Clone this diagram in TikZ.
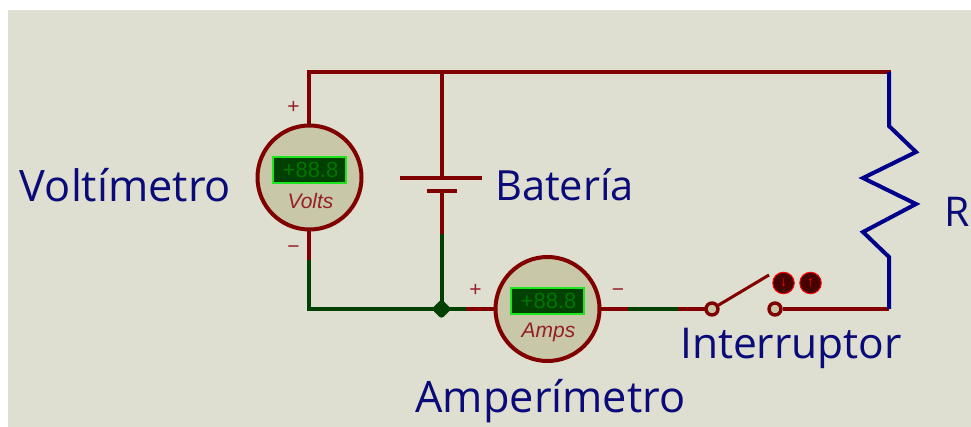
\documentclass[tikz,border=0pt]{standalone}
\usepackage{fontspec}
\usetikzlibrary{shapes.geometric}
\setmainfont{Open Sans}
\newfontfamily\metfont{Liberation Sans}
\definecolor{bgc}{RGB}{222,223,208}
\definecolor{wred}{RGB}{128,0,0}
\definecolor{wgreen}{RGB}{0,64,0}
\definecolor{wblue}{RGB}{0,0,139}
\definecolor{faceC}{RGB}{200,200,168}
\definecolor{lcdbg}{RGB}{0,64,0}
\definecolor{lcdfg}{RGB}{0,118,0}
\definecolor{lcdbd}{RGB}{30,230,30}
\definecolor{txtC}{RGB}{10,10,120}
\definecolor{pinC}{RGB}{150,30,40}
\definecolor{ctrlbg}{RGB}{70,0,0}
\definecolor{ctrlfg}{RGB}{255,0,0}
\tikzset{
  wr/.style={draw=wred,line width=4pt},
  wg/.style={draw=wgreen,line width=4pt},
  wb/.style={draw=wblue,line width=4pt,line join=miter},
  meter/.style={circle,draw=wred,line width=4pt,fill=faceC,minimum size=104pt,inner sep=0pt},
  lcd/.style={draw=lcdbd,line width=1.6pt,fill=lcdbg,text=lcdfg,minimum width=73pt,minimum height=25.5pt,inner sep=0pt,font=\metfont\fontsize{22}{22}\selectfont},
  unit/.style={text=pinC,inner sep=0pt,font=\metfont\itshape\fontsize{21}{22}\selectfont},
  pin/.style={text=pinC,inner sep=0pt,font=\metfont\fontsize{21}{21}\selectfont},
  lab/.style={text=txtC,inner sep=0pt,font=\fontsize{#1}{46}\selectfont},
  term/.style={circle,draw=wred,line width=3.4pt,fill=faceC,minimum size=12pt,inner sep=0pt},
  ctrl/.style={circle,draw=ctrlfg,line width=1pt,fill=ctrlbg,text=ctrlfg,minimum size=21.5pt,inner sep=0pt,font=\metfont\bfseries\fontsize{14}{14}\selectfont}
}
\begin{document}
\begin{tikzpicture}[x=1pt,y=-1pt]
\useasboundingbox (0,0) rectangle (971,427);
\fill[white] (0,0) rectangle (971,427);
\fill[bgc] (8,10) rectangle (971,427);
\coordinate (tl) at (309,72);
\coordinate (tb) at (441.5,72);
\coordinate (tr) at (889,72);
\coordinate (bl) at (309,309);
\coordinate (br) at (889,309);
\coordinate (vmid) at (309,260);
\coordinate (bmid) at (441.5,234);
\coordinate (plA) at (400,178);
\coordinate (plB) at (482,178);
\coordinate (psA) at (427,191);
\coordinate (psB) at (457,191);
\coordinate (pa) at (441.5,178);
\coordinate (pb) at (441.5,191);
\coordinate (j) at (441.5,309);
\coordinate (a1) at (466,309);
\coordinate (a2) at (628,309);
\coordinate (a3) at (678,309);
\draw[wg,line join=miter] (vmid) -- (bl) -- (j) -- (a1);
\draw[wg] (bmid) -- (j);
\draw[wg] (a2) -- (a3);
\draw[wr,line cap=rect] (tl) -- (tr);
\draw[wr] (tl) -- (vmid);
\draw[wr] (tb) -- (pa);
\draw[wr] (plA) -- (plB);
\draw[wr] (psA) -- (psB);
\draw[wr] (pb) -- (bmid);
\draw[wr] (a1) -- (a2);
\draw[wr] (a3) -- (712,309);
\node[meter] (vm) at (309.5,177.5) {};
\node[lcd] (vd) at (309.5,170) {\hspace*{2pt}+88.8};
\node[unit] (vu) at (310.5,200.5) {Volts};
\node[meter] (am) at (547.5,309) {};
\node[lcd] (ad) at (547.5,301) {\hspace*{2pt}+88.8};
\node[unit] (au) at (548.5,332) {Amps};
\node[pin] (p1) at (293.5,107) {+};
\node[pin] (p2) at (293.5,250) {−};
\node[pin] (p3) at (475.5,290.5) {+};
\node[pin] (p4) at (618,292.5) {−};
\node[diamond,fill=wgreen,minimum size=20pt,inner sep=0pt,rounded corners=3pt] (jd) at (j) {};
\node[term] (s1) at (712,309) {};
\node[term] (s2) at (775,309) {};
\draw[draw=wred,line width=3pt] (s1) -- (769,275);
\draw[wr] (s2) -- (br);
\node[ctrl] (c1) at (783.5,283) {↓};
\node[ctrl] (c2) at (810.5,283) {↑};
\draw[wb] (889,72) -- (889,126) -- (916,152) -- (863,178) -- (916,204) -- (863,232) -- (889,257) -- (br);
\node[lab=43.3,anchor=center] (lv) at (125.5,185) {Voltímetro};
\node[lab=41.6,anchor=center] (lb) at (564.5,185) {Batería};
\node[lab=42.5,anchor=center] (li) at (791,348) {Interruptor};
\node[lab=43.3,anchor=center] (la) at (550.5,401) {Amperímetro};
\node[lab=41,anchor=west] (lr) at (944,212) {R};
\end{tikzpicture}
\end{document}
